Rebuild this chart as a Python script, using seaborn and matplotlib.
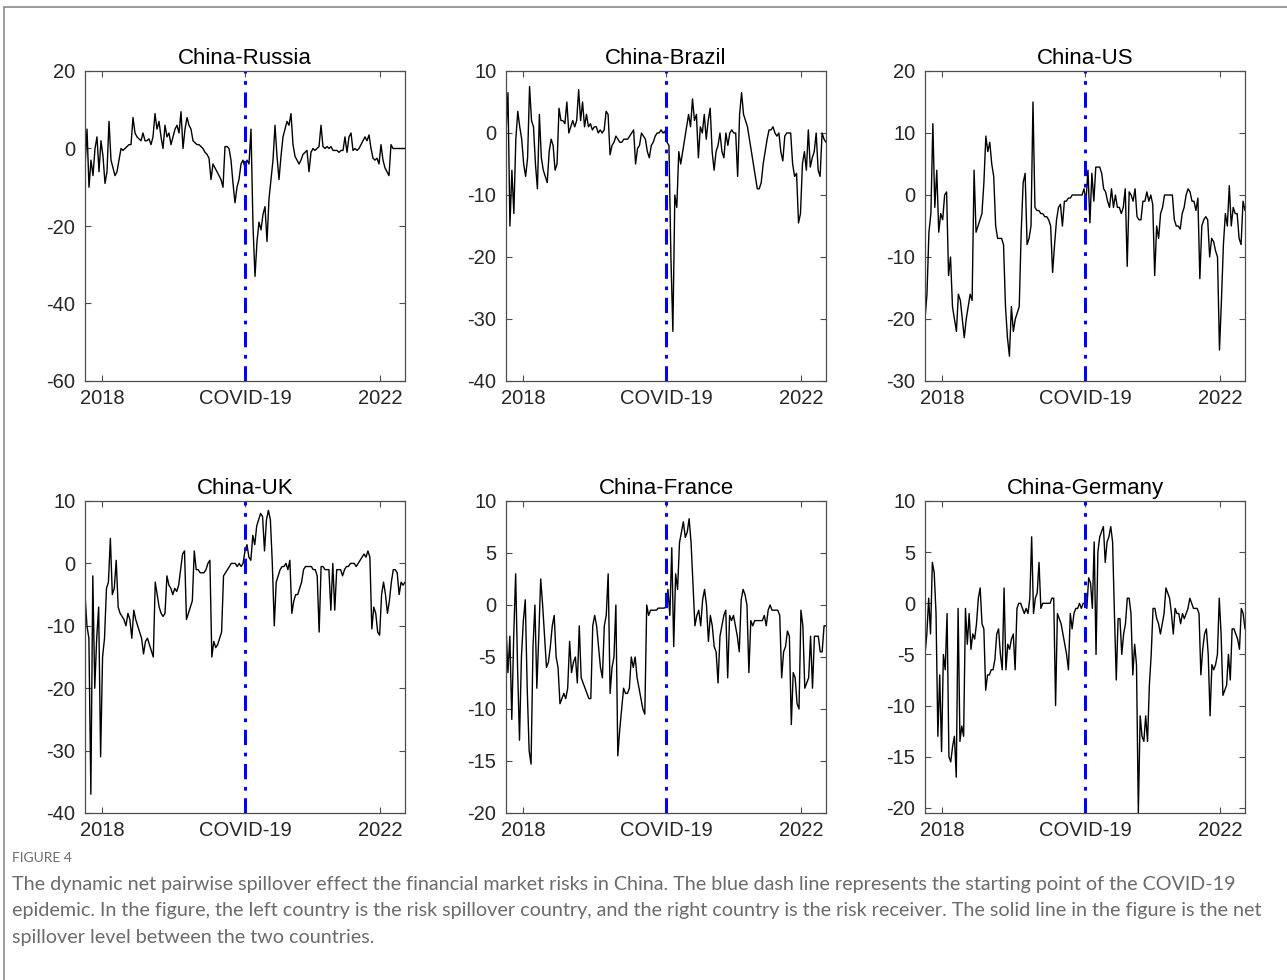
import numpy as np
import pandas as pd
import matplotlib
matplotlib.use("Agg")
import matplotlib.pyplot as plt
import seaborn as sns
from matplotlib.lines import Line2D

# ---------------- data ----------------
titles = ["China-Russia", "China-Brazil", "China-US",
          "China-UK", "China-France", "China-Germany"]

start_year, end_year, covid_year = 2017.75, 2022.36, 2020.06
xtick_pos = [2018, covid_year, 2022]
xtick_labels = ["2018", "COVID-19", "2022"]

russia = [-5, 5, -10, -3, -7, 0, 3, -6, 2, -2, -9, -6, 7, -3, -5, -7, -6, -3, 0, -0.5, 0, 0.5, 1, 1,
          8, 4, 3, 2.5, 2, 4, 2, 2, 2.5, 1, 3, 9, 5, 7, 3, 0, 6, 3, 4, 1, 3, 5, 6, 4, 9.5, 0, 5, 8,
          6, 5, 2, 1.5, 1, 1, 0.5, 0, -1, -1.5, -2.5, -8, -4, -5, -6, -7, -8, -10, 0.5, 0.5, 0, -3,
          -9, -14, -10, -8, -4, -3, -5, -3, -4, 5, -20, -33, -24, -19, -21, -17, -15, -24, -13, -8,
          -3, 6, -2, -8, -2, 3, 5, 7, 6, 9, 1, -2, -3, -4, -3, -1.5, -1, -0.5, -6, -1, 0, -0.5, 0,
          0.5, 6, 0.5, 0, 0.5, 0, 0.5, -0.5, -0.5, -0.5, -1, -0.5, -0.5, 3, -1, 3, 4, -0.5, 0, -0.5,
          0, 1, 2, 3, 2, 3.5, 0, -2.5, -3, -2.5, -4, 1, -3, -5, -6, -7, 1, 0, 0, 0, 0, 0, 0, 0]

brazil = [0, 6.5, -15, -6, -13, -1, 3.5, 1, -1, -5, -7, -4, 7.5, 2, 1, -5, -9, 3, -4, -6, -7, -8,
          -3, -1, -2, -6, -5, 4, 2, 2, 1.5, 5, 0, 1, 2, 1, 2, 7, 2, 5, 1, 3, 1, 1.5, 0.5, 1, 1, 0,
          0.5, 0, 0.5, 3.5, 3, -3.5, -2, -1.5, -0.5, -1, -1.5, -1.5, -1, -1, -1, -0.5, 0, 0.5, -5,
          -2.5, -2, 0, -0.5, -1, -3, -4, -2, -1.5, -0.5, 0, 0, 0.5, 0, 0.3, -1.5, -2, -20, -32, -10,
          -12, -3, -5, -3, -1, 1, 3, 1, 5.5, 2, 3, -4, 1, 0, 3, -1, 2, 4, -3, -6, -3, -2, 0, -3, -4,
          0, -2, 0, 0.5, 0, 0, -7, 3, 6.5, 3, 2, 1, -1, -3, -5, -7, -9, -9, -8, -5, -3, -1, 0.5, 0.5,
          1, 0, -0.5, 0, -3, -4.5, -0.5, 0, 0, 0, -5, -7, -6.5, -14.5, -13, -5, -3, -6, 0.5, -5.5,
          -4, -3, 0, -6, -7, 0, -1, -1.5]

us = [-20, -16, -6, -3, 11.5, -2, 4, -6, -3, -4, 0, 0.5, -13, -10, -18, -20, -22, -16, -17, -20,
      -23, -20, -18, -16, -17, 4, -6, -5, -4, -3, 2, 9.5, 7, 8.5, 5, 3, -5, -7, -7, -7, -8, -18,
      -23, -26, -18, -22, -20, -19, -18, -6, 2, 3.5, -8, -7, -5, 15, -2, -2.5, -2.5, -3, -3, -3.5,
      -3.5, -4, -5, -12.5, -8, -4, -2, -1.5, -5, -1, -1, -0.5, -0.5, 0, 0, 0, 0, 0, 0, 1, -1, 4,
      -4.5, 3.5, -1, 4.5, 4.5, 4.5, 3.5, 1, 0.5, -1, -2, 1, -2, 0, -2, -2, -3, -2, 1, -11.5, 0.5,
      0, -1, 1, -3.5, -4, -4, -1, -1, 0.5, -1, 0, -1.5, -13, -5, -7, -3, -2, 0, 0, 0, 0, 0, -4,
      -5, -5, -5.5, -3, -2, 0, 1, 0.5, -1, -1, -2.5, -0.5, -13.5, -5, -4, -3.5, -4, -10, -7, -7.5,
      -9, -10, -25, -17, -8, -3, -5, 1.5, -5, -2, -3, -3, -7, -8, -1, -2.5]

uk = [-5, -10, -12, -37, -2, -20, -12, -7, -31, -15, -12, -4, -3, 4, -5, -4, 0.5, -7, -8, -8.5,
      -9, -10, -8, -9, -12, -7.5, -9, -10, -11, -12, -14.5, -12.5, -12, -13, -14, -15, -3, -5, -7,
      -8, -8.5, -8, -2, -3.5, -4, -5, -4, -4.5, -3.5, -1, 1.5, 2, -9, -8, -7, -6, 2, -1, -1, -1.5,
      -1.5, -1.5, -1, 0, 0.5, -15, -12.5, -13.5, -13, -12, -11, -2, -1.5, -1, -0.5, 0, 0, 0, -0.5,
      0, -0.5, 0, 2, 3, 1, 0.5, 4.5, 3, 6, 7, 8, 7.5, 2, 7, 8.5, 7, 0, -10, -3, -2, -1, -0.5, -0.5,
      0, -1, 0.5, -8, -6, -5, -5, -4, -3, -1, -0.5, -0.5, -0.5, -0.5, -1, -1, -2, -11, -0.5, -0.5,
      -1, -1, -1, -7.5, 0, -7.5, -1, -1, -1, -2, -1, -0.5, -0.5, 0, 0, 0, -0.5, 0, 0.5, 1, 1.5, 1,
      2, 1, -10.5, -7, -8, -11, -11.5, -5, -3, -5, -8, -6, -3, -1, -1, -1.5, -5, -3, -3.5, -3]

france = [-2, -6.5, -3, -11, -3, 3, -6, -13, -5, -1.5, 0.5, -8, -14, -15.3, -4, 0, -8, -3, 2.5, 0,
          -3, -6, -5.5, -4, -2, -1, -5, -6, -9.5, -9, -8.5, -9, -8, -3.5, -6.5, -5.5, -5, -7.5, -2,
          -7, -7.5, -8, -8.5, -9, -9, -2, -1, -2, -4, -6, -7, -2, -1, 3, -8.5, -6, -5, 0, -14.5, -12,
          -10, -8, -8.5, -8.5, -8, -5, -6, -5, -7, -8, -9, -10, -10.5, 0, -1, -0.5, -0.5, -0.5, -0.5,
          -0.3, -0.3, -0.3, -0.3, -0.2, 1.5, -1, 5.5, -4, 3, 1.5, 6, 7, 8, 6.5, 7, 8.3, 6, 2, -2, -1,
          -0.5, -2, 0.5, 1.5, 0, -3.5, -1, -2, -4, -4.5, -7.5, -3, -2, -1, -0.5, -7, -1, -1.5, -1, -2,
          -3, -4.5, 0.5, 1.5, 1, 0, -6.5, -1.5, -2, -1.5, -1.5, -1.5, -1.5, -1.5, -1, -2, -0.5, 0,
          -0.5, -0.5, -0.5, -0.5, -1, -7, -4.5, -4, -2.5, -3, -11.5, -6.5, -7, -9.5, -10, -0.5, -2,
          -8, -7.5, -7, -3, -8, -3, -3, -3, -4.5, -4.5, -2, -2]

germany = [-5, -3, 0.5, -3, 4, 3, -1, -13, -7, -14.5, -5, -6.5, -1, -15, -15.5, -14, -13, -17, -0.5,
           -13.5, -12, -13, -0.5, -4, -1, -4.5, -3, -3.5, -2, 0.5, 1.5, -2, -2.5, -8.5, -7, -7, -6.5,
           -6.5, -5.5, -3, -2.5, -5, -6.5, 1.5, -6.5, -4, -4.5, -3.5, -3, -6.5, -0.5, 0, 0, -0.5, -1,
           -0.5, -1, 0.5, 6.5, -1, 0.5, 1, 4, -0.5, 0, 0, 0, 0, 0, 0.5, 0.5, -10, -1, -1.5, -2, -3,
           -4, -5, -6.5, -1, -2.5, -1, -0.5, -0.5, 0, -0.5, 0, 0, -0.5, 2.5, 2, -0.5, 6, -5, 5, 6.5, 7,
           7.5, 4, 6, 6.5, 7.5, 6, -1, -7.5, -1.5, -1.5, -5, -3, -2, 0.5, 0.5, -1, -7, -4, -6, -20.5,
           -11, -13, -13.5, -11, -13.5, -8, -5, -0.5, -0.5, -1.5, -2, -3, -2, -1, 1.5, 1, 0.5, -1, -3,
           -0.5, -1, -1, -2, -1, -1.5, -1, -0.5, 0.5, 0, -0.5, -0.5, -0.5, -1, -7, -4.5, -3, -2.5, -5,
           -11, -6, -6.5, -6, -5, 0.5, -3, -9, -8.5, -8, -5, -7.5, -2.5, -2.5, -3, -3.5, -4.5, -0.5,
           -1, -2.5]

series = [russia, brazil, us, uk, france, germany]
ylims = [(-60, 20), (-40, 10), (-30, 20), (-40, 10), (-20, 10), (-20.5, 10)]
yticks = [[20, 0, -20, -40, -60], [10, 0, -10, -20, -30, -40], [20, 10, 0, -10, -20, -30],
          [10, 0, -10, -20, -30, -40], [10, 5, 0, -5, -10, -15, -20],
          [10, 5, 0, -5, -10, -15, -20]]

caption_label = "FIGURE 4"
caption_lines = [
    "The dynamic net pairwise spillover effect the financial market risks in China. The blue dash line represents the starting point of the COVID-19",
    "epidemic. In the figure, the left country is the risk spillover country, and the right country is the risk receiver. The solid line in the figure is the net",
    "spillover level between the two countries.",
]

# ---------------- style ----------------
sns.set_style("ticks")
plt.rcParams["font.family"] = ["Liberation Sans", "DejaVu Sans"]
plt.rcParams["axes.unicode_minus"] = False

W, H = 1287, 980
fig = plt.figure(figsize=(W / 100, H / 100), dpi=100)
fig.patch.set_facecolor("white")

# figure frame (top + left visible)
fig.add_artist(Line2D([4 / W, 4 / W], [0, 1 - 7 / H], transform=fig.transFigure,
                      color="#8a8a8a", lw=1.2))
fig.add_artist(Line2D([4 / W, 1], [1 - 7 / H, 1 - 7 / H], transform=fig.transFigure,
                      color="#8a8a8a", lw=1.2))

lefts = [85, 506, 925]
rows = [(71, 381), (501, 813)]

axis_col = "#4d4d4d"
text_col = "#262626"

for i, (title, vals) in enumerate(zip(titles, series)):
    r, c = divmod(i, 3)
    top, bot = rows[r]
    ax = fig.add_axes([lefts[c] / W, 1 - bot / H, 320 / W, (bot - top) / H])
    t = np.linspace(start_year, end_year, len(vals))
    df = pd.DataFrame({"t": t, "v": vals})
    sns.lineplot(data=df, x="t", y="v", ax=ax, color="black", linewidth=1.0,
                 estimator=None, sort=False)
    ax.axvline(covid_year, color="#0000ff", lw=2.2, ls=(0, (5, 2.5, 1.2, 2.5)))
    ax.set_xlim(start_year, end_year)
    ax.set_ylim(*ylims[i])
    ax.set_xticks(xtick_pos)
    ax.set_xticklabels(xtick_labels)
    ax.set_yticks(yticks[i])
    ax.set_yticklabels([str(v) for v in yticks[i]])
    ax.set_xlabel("")
    ax.set_ylabel("")
    ax.set_title(title, fontsize=16, color="black", pad=5)
    ax.tick_params(direction="in", top=True, right=True, length=4, width=0.8,
                   colors=axis_col, labelcolor=text_col, labelsize=14.5)
    ax.tick_params(axis="y", pad=7)
    ax.tick_params(axis="x", pad=6)
    for s in ax.spines.values():
        s.set_visible(True)
        s.set_color(axis_col)
        s.set_linewidth(0.9)

cap_font = ["Lato", "DejaVu Sans"]
fig.text(12 / W, 1 - 858 / H, caption_label, fontsize=10, color="#6b6b6b",
         family=cap_font, va="center", ha="left")
for k, line in enumerate(caption_lines):
    fig.text(12 / W, 1 - (884 + 26.5 * k) / H, line, fontsize=14.2, color="#6b6b6b",
             family=cap_font, va="center", ha="left")

fig.savefig("out.png", dpi=100, facecolor="white")
